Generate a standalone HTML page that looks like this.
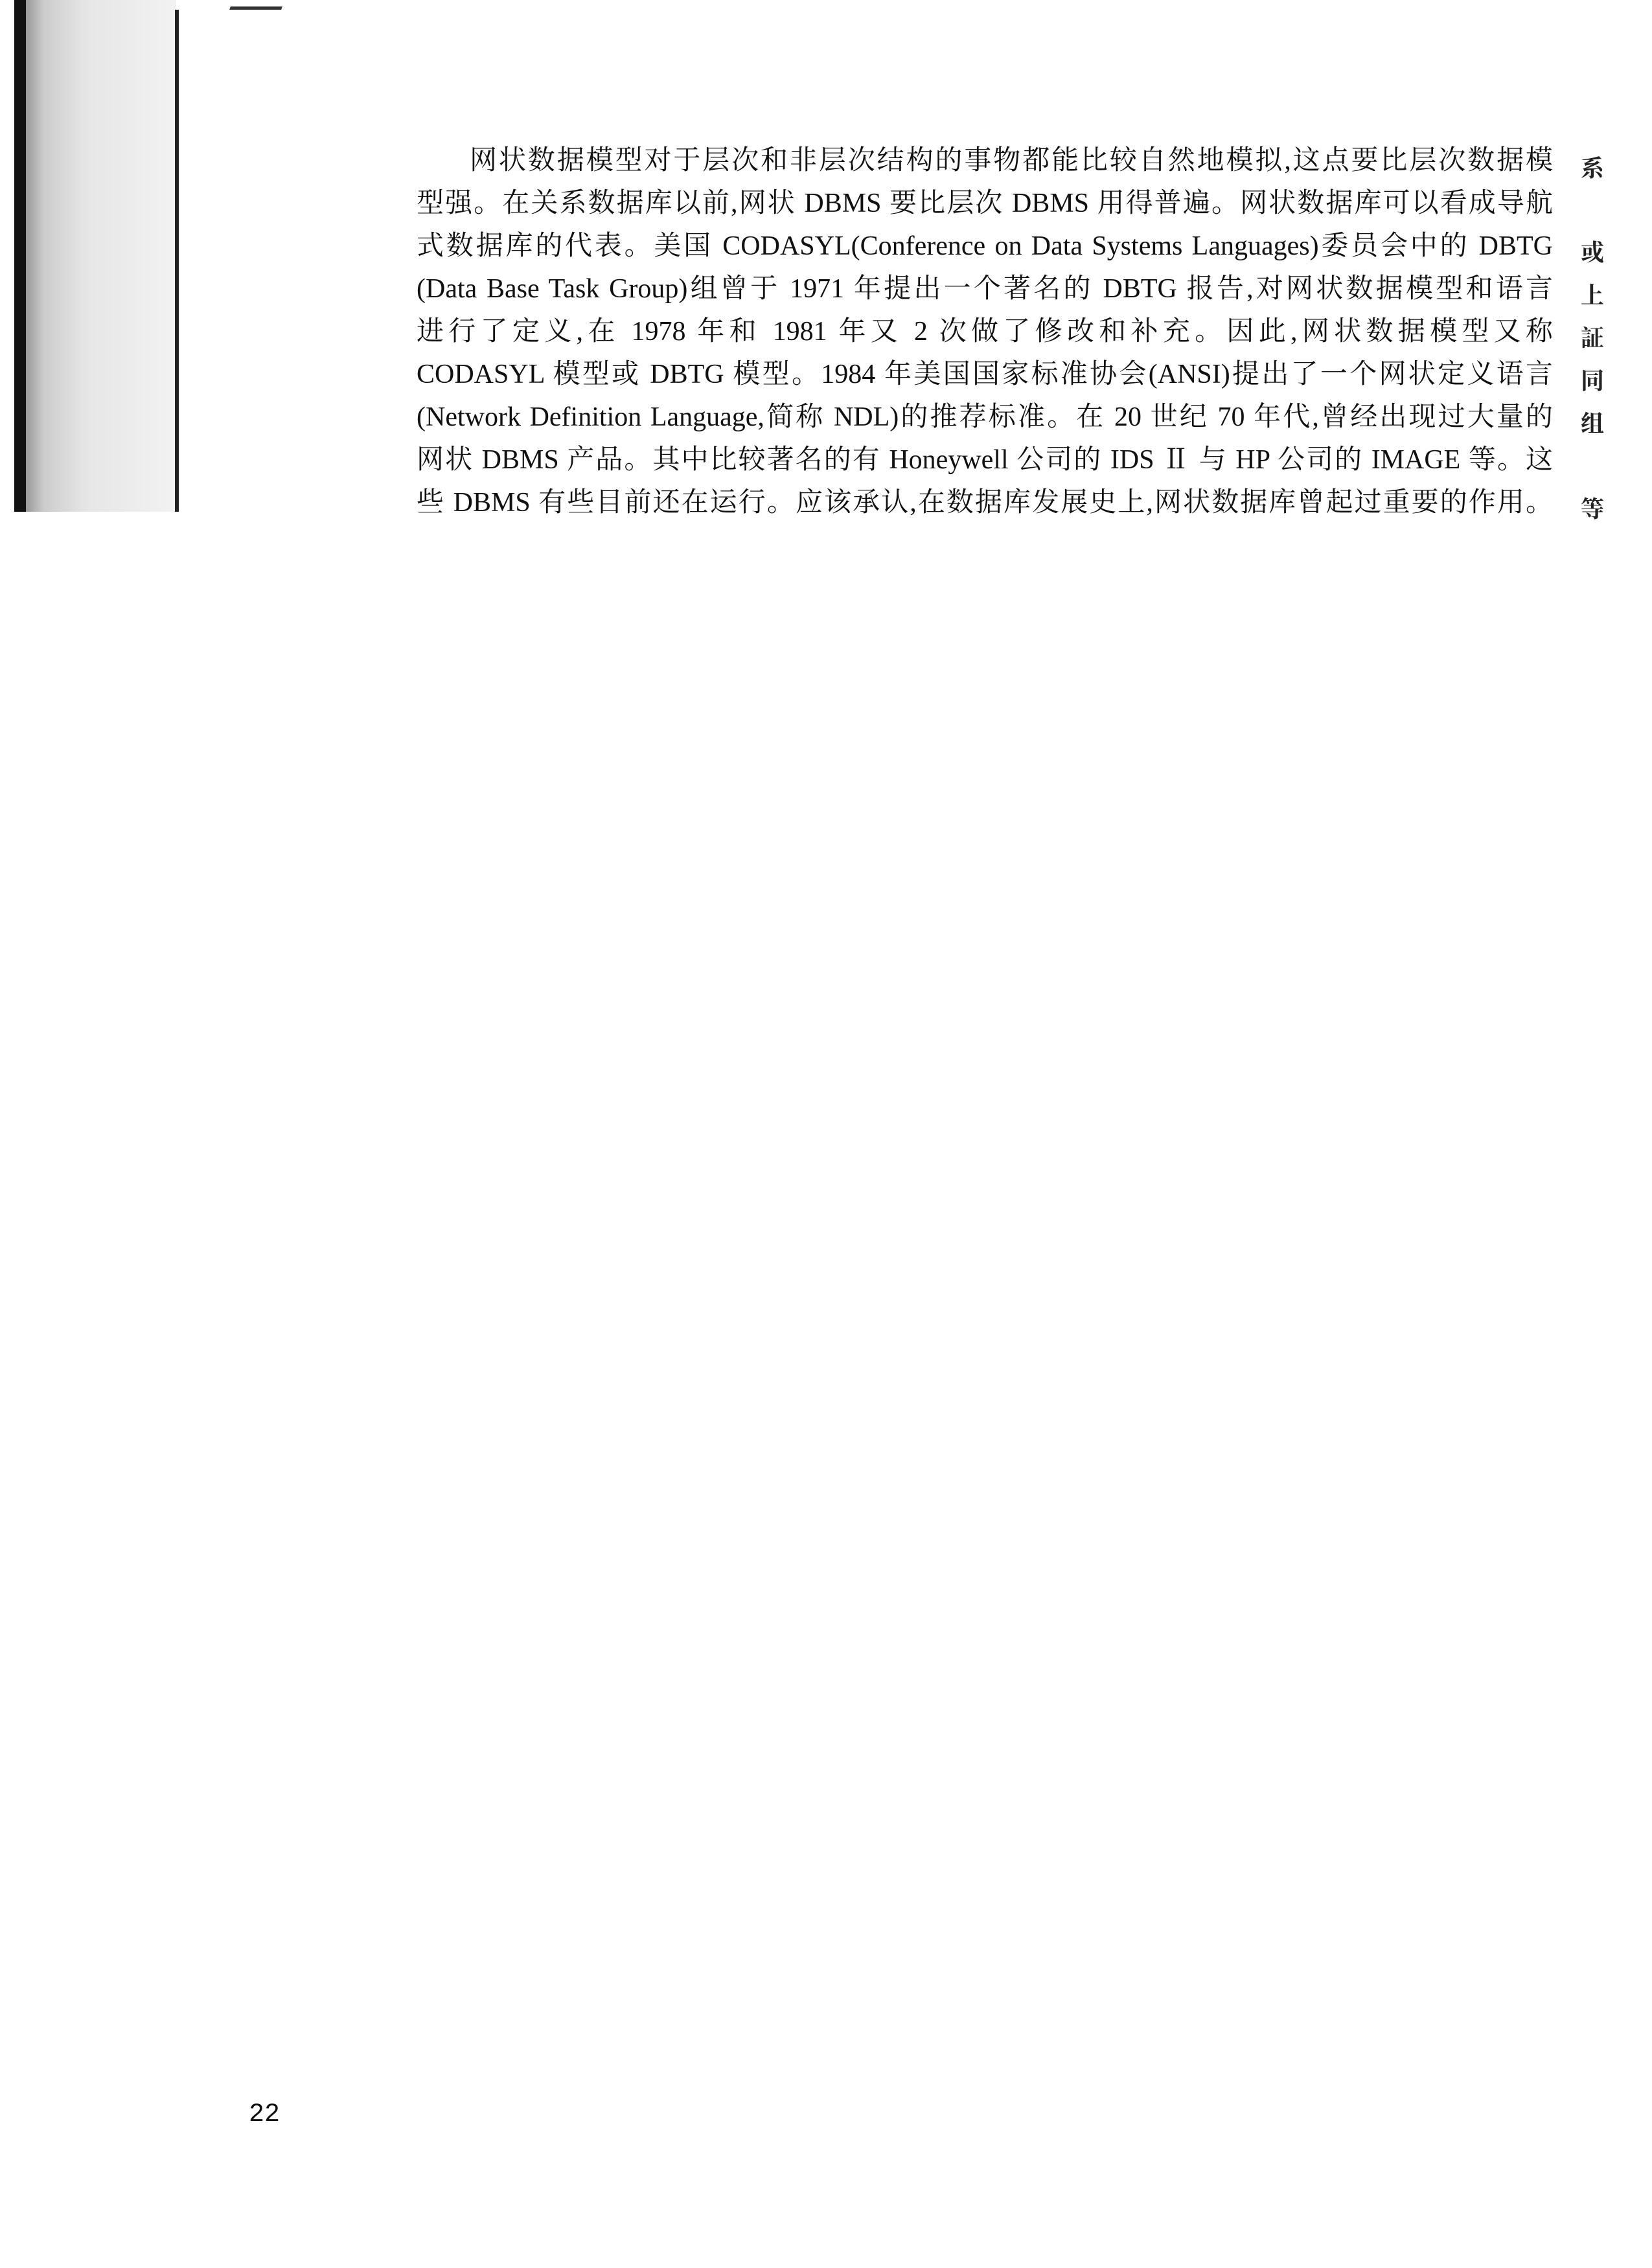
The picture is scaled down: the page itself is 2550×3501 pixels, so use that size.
<!DOCTYPE html>
<html><head><meta charset="utf-8"><style>
html,body{margin:0;padding:0;background:#fff;}
body{width:2550px;height:3501px;position:relative;overflow:hidden;font-family:"Liberation Serif","Noto Serif CJK SC","Noto Sans CJK SC",serif;color:#111;}
.line{position:absolute;left:643px;width:1754px;height:66px;font-size:42px;line-height:66px;text-align:justify;text-align-last:justify;white-space:nowrap;}
.side{position:absolute;left:2440px;font-size:36px;font-weight:bold;color:#222;}
</style></head><body>
<div style="position:absolute;left:22px;top:0;width:18px;height:790px;background:#111;"></div>
<div style="position:absolute;left:40px;top:0;width:232px;height:790px;background:linear-gradient(90deg,#999,#ccc 12%,#e6e6e6 40%,#f2f2f2);"></div>
<div style="position:absolute;left:270px;top:15px;width:6px;height:775px;background:#222;"></div>
<div style="position:absolute;left:355px;top:10px;width:80px;height:5px;background:#333;transform:skewX(-20deg);"></div>
<div>
<div class="line" style="top:215px;left:725px;width:1672px;">网状数据模型对于层次和非层次结构的事物都能比较自然地模拟,这点要比层次数据模</div>
<div class="line" style="top:281px;">型强。在关系数据库以前,网状 DBMS 要比层次 DBMS 用得普遍。网状数据库可以看成导航</div>
<div class="line" style="top:347px;">式数据库的代表。美国 CODASYL(Conference on Data Systems Languages)委员会中的 DBTG</div>
<div class="line" style="top:413px;">(Data Base Task Group)组曾于 1971 年提出一个著名的 DBTG 报告,对网状数据模型和语言</div>
<div class="line" style="top:479px;">进行了定义,在 1978 年和 1981 年又 2 次做了修改和补充。因此,网状数据模型又称</div>
<div class="line" style="top:545px;">CODASYL 模型或 DBTG 模型。1984 年美国国家标准协会(ANSI)提出了一个网状定义语言</div>
<div class="line" style="top:611px;">(Network Definition Language,简称 NDL)的推荐标准。在 20 世纪 70 年代,曾经出现过大量的</div>
<div class="line" style="top:677px;">网状 DBMS 产品。其中比较著名的有 Honeywell 公司的 IDS Ⅱ 与 HP 公司的 IMAGE 等。这</div>
<div class="line" style="top:743px;">些 DBMS 有些目前还在运行。应该承认,在数据库发展史上,网状数据库曾起过重要的作用。</div>
</div>
<div class="side" style="top:232px;">系</div>
<div class="side" style="top:362px;">或</div>
<div class="side" style="top:428px;">上</div>
<div class="side" style="top:494px;">証</div>
<div class="side" style="top:560px;">同</div>
<div class="side" style="top:626px;">组</div>
<div class="side" style="top:758px;">等</div>
<div style="position:absolute;left:384px;top:3242px;font-size:40px;font-family:'Liberation Mono',monospace;">22</div>
</body></html>
